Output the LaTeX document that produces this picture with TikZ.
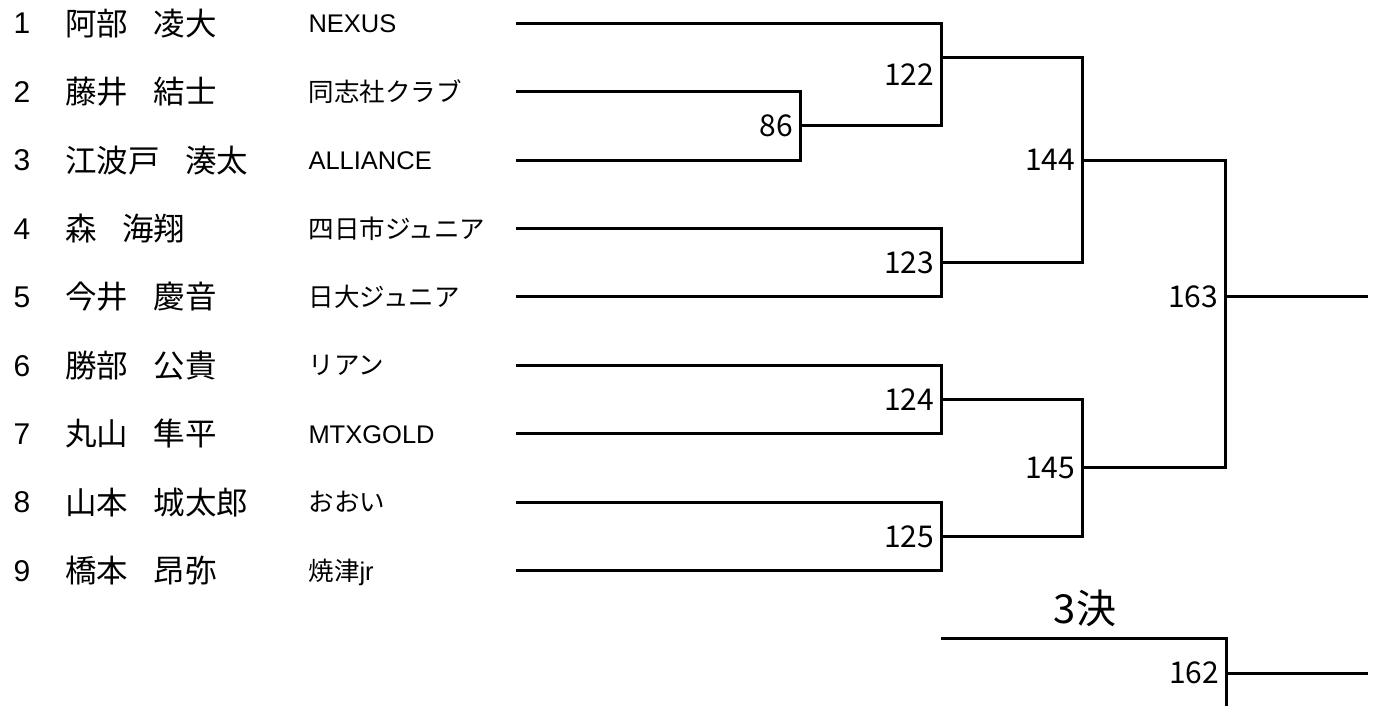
\documentclass[tikz,border=0pt]{standalone}
\usepackage{fontspec}
\setmainfont{Noto Sans CJK JP}
\newfontfamily\lat{Liberation Sans}
\newcommand{\nmgap}{\hspace{26pt}}

\begin{document}
\begin{tikzpicture}[x=1pt, y=-34.2pt, line width=3pt,
    num/.style={anchor=base, yshift=-10.7pt, font=\lat\fontsize{30}{30}\selectfont},
    pname/.style={anchor=base west, inner sep=0pt, yshift=-12pt, font=\fontsize{31.5}{32}\selectfont},
    team/.style={anchor=base west, inner sep=0pt, yshift=-9.5pt, font=\fontsize{25.5}{26}\selectfont},
    score/.style={anchor=east, inner sep=0pt, xshift=-5.5pt, font=\fontsize{30}{30}\selectfont}]
    \useasboundingbox (0pt,0pt) rectangle (1378pt,-706pt);
    \begin{scope}[yshift=-23.3pt]
    \foreach \i/\nm/\tm [evaluate=\i as \r using {2*(\i-1)}] in {
        1/{阿部\nmgap 凌大}/{\lat NEXUS},
        2/{藤井\nmgap 結士}/{同志社クラブ},
        3/{江波戸\nmgap 湊太}/{\lat ALLIANCE},
        4/{森\nmgap 海翔}/{四日市ジュニア},
        5/{今井\nmgap 慶音}/{日大ジュニア},
        6/{勝部\nmgap 公貴}/{リアン},
        7/{丸山\nmgap 隼平}/{\lat MTXGOLD},
        8/{山本\nmgap 城太郎}/{おおい},
        9/{橋本\nmgap 昂弥}/{焼津{\lat jr}}} {
      \node[num] (n\i) at (22, \r) {\i};
      \node[pname] (p\i) at (63.5, \r) {\nm};
      \node[team] (t\i) at (307, \r) {\tm};
      \coordinate (s\i) at (516, \r);
    }
    \coordinate (j86) at (800, 3);
    \coordinate (j122) at (941, 1);
    \coordinate (j123) at (941, 7);
    \coordinate (j124) at (941, 11);
    \coordinate (j125) at (941, 15);
    \coordinate (j144) at (1082, 4);
    \coordinate (j145) at (1082, 13);
    \coordinate (j163) at (1225, 8);
    \coordinate (e163) at (1368, 8);
    \coordinate (q1) at (941, 18);
    \coordinate (j162) at (1226, 19);
    \coordinate (q2) at (1226, 20);
    \coordinate (e162) at (1368, 19);

    \draw (s2) -| (j86) |- (s3);
    \draw (s1) -| (j122) |- (j86);
    \draw (s4) -| (j123) |- (s5);
    \draw (s6) -| (j124) |- (s7);
    \draw (s8) -| (j125) |- (s9);
    \draw (j122) -| (j144) |- (j123);
    \draw (j124) -| (j145) |- (j125);
    \draw (j144) -| (j163) |- (j145);
    \draw (j163) -- (e163);
    \draw (q1) -| (j162) -- (q2);
    \draw (j162) -- (e162);

    \node[score] (l86) at (j86) {86};
    \node[score, yshift=-17pt] (l122) at (j122) {122};
    \node[score] (l123) at (j123) {123};
    \node[score] (l124) at (j124) {124};
    \node[score] (l125) at (j125) {125};
    \node[score] (l144) at (j144) {144};
    \node[score] (l145) at (j145) {145};
    \node[score] (l163) at (j163) {163};
    \node[score] (l162) at (j162) {162};
    \node[font=\fontsize{40}{40}\selectfont] (third) at (1085, 17.1) {3決};
    \end{scope}
  \end{tikzpicture}
\end{document}
